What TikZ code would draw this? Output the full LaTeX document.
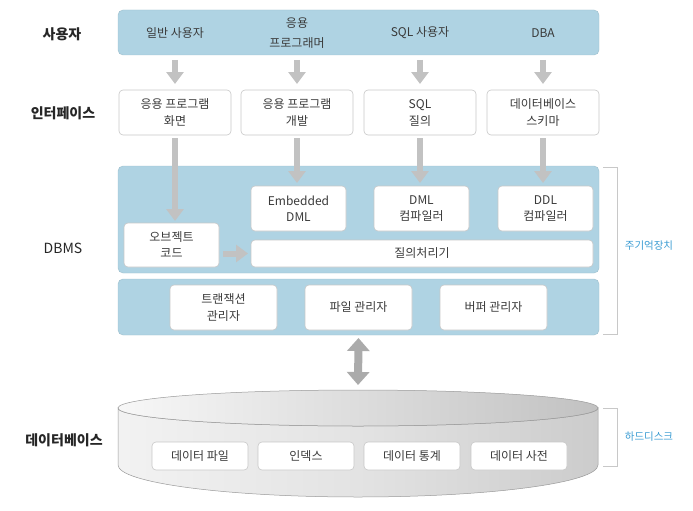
\documentclass[tikz,border=0pt]{standalone}
\usepackage{fontspec}
\setmainfont{Noto Sans CJK KR}
\usetikzlibrary{arrows.meta,positioning,shapes.geometric,calc}

\definecolor{panelblue}{HTML}{AFD3E3}
\definecolor{arrowgray}{HTML}{C2C2C2}
\definecolor{boxline}{HTML}{C8C8C8}
\definecolor{textgray}{HTML}{3A3A3A}
\definecolor{memblue}{HTML}{3D9DD3}

\begin{document}
\begin{tikzpicture}[
  x=1pt, y=-1pt,
  font=\fontsize{12}{17}\selectfont,
  panel/.style={
    rectangle, rounded corners=5pt, draw=panelblue!90!black, fill=panelblue,
    line width=0.4pt, outer sep=0pt
  },
  box/.style={
    rectangle, rounded corners=4pt, draw=boxline, fill=white, line width=0.6pt,
    text=textgray, align=center, inner sep=1pt, outer sep=0pt
  },
  ifbox/.style={box, minimum width=112pt, minimum height=45pt},
  compbox/.style={box, minimum width=95pt, minimum height=45pt},
  mgrbox/.style={box, minimum width=107pt, minimum height=45pt},
  diskbox/.style={box, minimum width=96pt, minimum height=28pt},
  rowlabel/.style={font=\fontsize{14}{17}\selectfont\bfseries, text=black!85},
  usertext/.style={text=textgray, align=center, font=\fontsize{12}{20}\selectfont},
  bigarr/.style={-{Triangle[width=17pt,length=12pt]}, line width=6pt, draw=arrowgray},
  dblarr/.style={{Triangle[width=22pt,length=13pt]}-{Triangle[width=22pt,length=13pt]},
    line width=8pt, draw=black!33},
  bracket/.style={draw=boxline, line width=0.7pt},
  memlabel/.style={font=\fontsize{10.5}{12}\selectfont, text=memblue},
]
\useasboundingbox (0,0) rectangle (693,511);

%% Row labels (left column)
\node[rowlabel]                                  (lusers) at (62,34)  {사용자};
\node[rowlabel]                                  (lif)    at (63,113) {인터페이스};
\node[font=\fontsize{14}{17}\selectfont, text=black!85] (ldbms) at (63,248) {DBMS};
\node[rowlabel]                                  (ldb)    at (64,440) {데이터베이스};

%% Users band
\node[panel, minimum width=481pt, minimum height=45pt] (users) at (358.5,32.5) {};
\node[usertext] (u1) at (175,33) {일반 사용자};
\node[usertext] (u2) at (297,33.5) {응용\\프로그래머};
\node[usertext] (u3) at (420,33) {SQL 사용자};
\node[usertext] (u4) at (543,33) {DBA};

%% Interface boxes
\node[ifbox]                       (if1) at (175,112.5) {응용 프로그램\\화면};
\node[ifbox, right=10pt of if1]    (if2) {응용 프로그램\\개발};
\node[ifbox, right=11pt of if2]    (if3) {SQL\\질의};
\node[ifbox, right=11pt of if3]    (if4) {데이터베이스\\스키마};

%% DBMS panels
\node[panel, minimum width=481pt, minimum height=107pt] (dbms1) at (358.5,219.5) {};
\node[panel, minimum width=481pt, minimum height=56pt]  (dbms2) at (358.5,307) {};

%% Compilers and query processor
\node[compbox]                     (emb) at (298.5,208.5) {Embedded\\[-1pt]DML};
\node[compbox, right=28pt of emb]  (dml) {DML\\[-1pt]컴파일러};
\node[compbox, right=29pt of dml]  (ddl) {DDL\\[-1pt]컴파일러};
\node[box, minimum width=342pt, minimum height=27pt, anchor=north west]
  (qp) at ($(emb.south west)+(0,9)$) {질의처리기};
\node[compbox, minimum height=44pt] (obj) at (171.5,245) {오브젝트\\[-1pt]코드};

%% Managers
\node[mgrbox]                      (tm)  at (223.5,307.5) {트랜잭션\\관리자};
\node[mgrbox, right=28pt of tm]    (fm)  {파일 관리자};
\node[mgrbox, right=28pt of fm]    (bm)  {버퍼 관리자};

%% Database cylinder
\coordinate (disktop) at (358,408);
\coordinate (diskbot) at (358,465);
\draw[draw=black!40, line width=0.5pt, left color=black!5, right color=black!20, middle color=black!11]
  (118,408) -- (118,465) arc[start angle=180, end angle=0, x radius=240, y radius=32]
  -- (598,408) arc[start angle=0, end angle=180, x radius=240, y radius=18] -- cycle;
\draw[draw=black!40, line width=0.5pt, left color=black!3, right color=black!24]
  (disktop) ellipse [x radius=240, y radius=18];
\coordinate (disktopedge) at (358,390);

\node[diskbox]                     (df)  at (200,456) {데이터 파일};
\node[diskbox, right=10pt of df]   (idx) {인덱스};
\node[diskbox, right=10pt of idx]  (st)  {데이터 통계};
\node[diskbox, right=11pt of st]   (dic) {데이터 사전};

%% Users -> interfaces
\foreach \u/\i in {u1/if1, u2/if2, u3/if3, u4/if4}
  \draw[bigarr] (\i.north |- users.south) ++(0,5) -- ($(\i.north)+(0,-6)$);

%% Interfaces -> DBMS
\draw[bigarr, shorten <=3pt, shorten >=2pt] (if1.south) -- (if1.south |- obj.north);
\draw[bigarr, shorten <=3pt, shorten >=3pt] (if2.south) -- (if2.south |- emb.north);
\draw[bigarr, shorten <=3pt, shorten >=3pt] (if3.south) -- (if3.south |- dml.north);
\draw[bigarr, shorten <=3pt, shorten >=3pt] (if4.south) -- (if4.south |- ddl.north);
\draw[bigarr, shorten <=4pt, shorten >=3pt] (obj.east |- qp) -- (qp.west);

%% DBMS <-> disk
\draw[dblarr, shorten <=3pt, shorten >=5pt] (dbms2.south) -- (disktopedge);

%% Storage brackets
\draw[bracket] (dbms1.north east) ++(4,1) -- ++(14,0) |- ($(dbms2.south east)+(4,-1)$);
\node[memlabel] (mem) at (649,246) {주기억장치};
\draw[bracket] ($(disktop)+(245,0)$) -- ++(14,0) |- ($(diskbot)+(245,1)$);
\node[memlabel] (hdd) at (649,437) {하드디스크};

\end{tikzpicture}
\end{document}
